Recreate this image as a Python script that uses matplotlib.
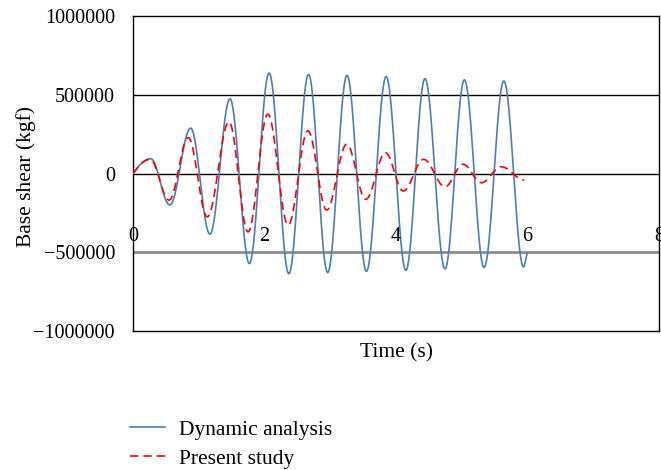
import numpy as np
import matplotlib
matplotlib.use('Agg')
import matplotlib.pyplot as plt

plt.rcParams['font.family'] = ['Liberation Serif', 'DejaVu Serif']

# peaks and troughs of the base shear history (time in s, force in kgf)
dyn_t = [0.0, 0.27, 0.56, 0.877, 1.17, 1.475, 1.77, 2.07, 2.37, 2.67, 2.96,
         3.255, 3.55, 3.85, 4.15, 4.44, 4.745, 5.04, 5.34, 5.64, 5.94, 6.0]
dyn_v = [0, 94000, -200000, 288000, -385000, 474000, -572000, 638000, -636000,
         629000, -629000, 623000, -621000, 615000, -615000, 602000, -606000,
         595000, -597000, 587000, -593000, -505000]

pres_t = [0.0, 0.26, 0.55, 0.84, 1.13, 1.46, 1.75, 2.05, 2.36, 2.66, 2.945,
          3.25, 3.54, 3.84, 4.11, 4.42, 4.745, 5.02, 5.30, 5.60, 5.95]
pres_v = [0, 90000, -169000, 228000, -275000, 328000, -371000, 377000, -328000,
          271000, -232000, 186000, -164000, 132000, -111000, 90000, -84000,
          58600, -58500, 43000, -42000]

x_ticks = [0, 2, 4, 6, 8]
y_ticks = [-1000000, -500000, 0, 500000, 1000000]
y_labels = ['\u22121000000', '\u2212500000', '0', '500000', '1000000']


def smooth_wave(t, v, n=40):
    # join successive extrema with half-cosine arcs
    xs, ys = [], []
    for i in range(len(t) - 1):
        s = np.linspace(0, 1, n)
        if i == 0 and v[0] == 0:
            w = np.sin(np.pi / 2 * s)
        else:
            w = (1 - np.cos(np.pi * s)) / 2
        xs.append(t[i] + (t[i + 1] - t[i]) * s)
        ys.append(v[i] + (v[i + 1] - v[i]) * w)
    return np.concatenate(xs), np.concatenate(ys)


fig = plt.figure(figsize=(6.61, 4.70), dpi=100)
ax = fig.add_axes([0.2012, 0.2957, 0.7958, 0.6703])

ax.axhline(500000, color='black', lw=1.0, zorder=1)
ax.axhline(0, color='black', lw=1.0, zorder=1)
ax.axhline(-500000, color='#8c8c8c', lw=2.0, zorder=1)

x1, y1 = smooth_wave(dyn_t, dyn_v)
x2, y2 = smooth_wave(pres_t, pres_v)
ax.plot(x1, y1, color='#4a7ebb', lw=1.2, label='Dynamic analysis', zorder=3)
ax.plot(x2, y2, color='#ff0000', lw=1.2, ls=(0, (5, 3)), label='Present study', zorder=4)

ax.set_xlim(0, 8)
ax.set_ylim(-1000000, 1000000)
ax.set_yticks(y_ticks)
ax.set_yticklabels(y_labels, fontsize=14.5)
ax.tick_params(axis='y', length=0, pad=13)
ax.set_xticks([])
for t in x_ticks:
    ax.text(t, -400000, str(t), ha='center', va='center', fontsize=14.5, clip_on=False)

for sp in ax.spines.values():
    sp.set_color('black')
    sp.set_linewidth(1.0)

ax.set_ylabel('Base shear (kgf)', fontsize=15.5)
ax.yaxis.set_label_coords(-0.185, 0.49)
fig.text(396 / 661, 1 - 353 / 470, 'Time (s)', ha='center', va='center', fontsize=15.5)

fig.legend(loc='upper left', bbox_to_anchor=(0.197, 0.1074), frameon=False,
           fontsize=15.5, handlelength=1.63, handletextpad=0.65, labelspacing=0.42,
           borderpad=0, borderaxespad=0)

fig.savefig('out.png', dpi=100)
